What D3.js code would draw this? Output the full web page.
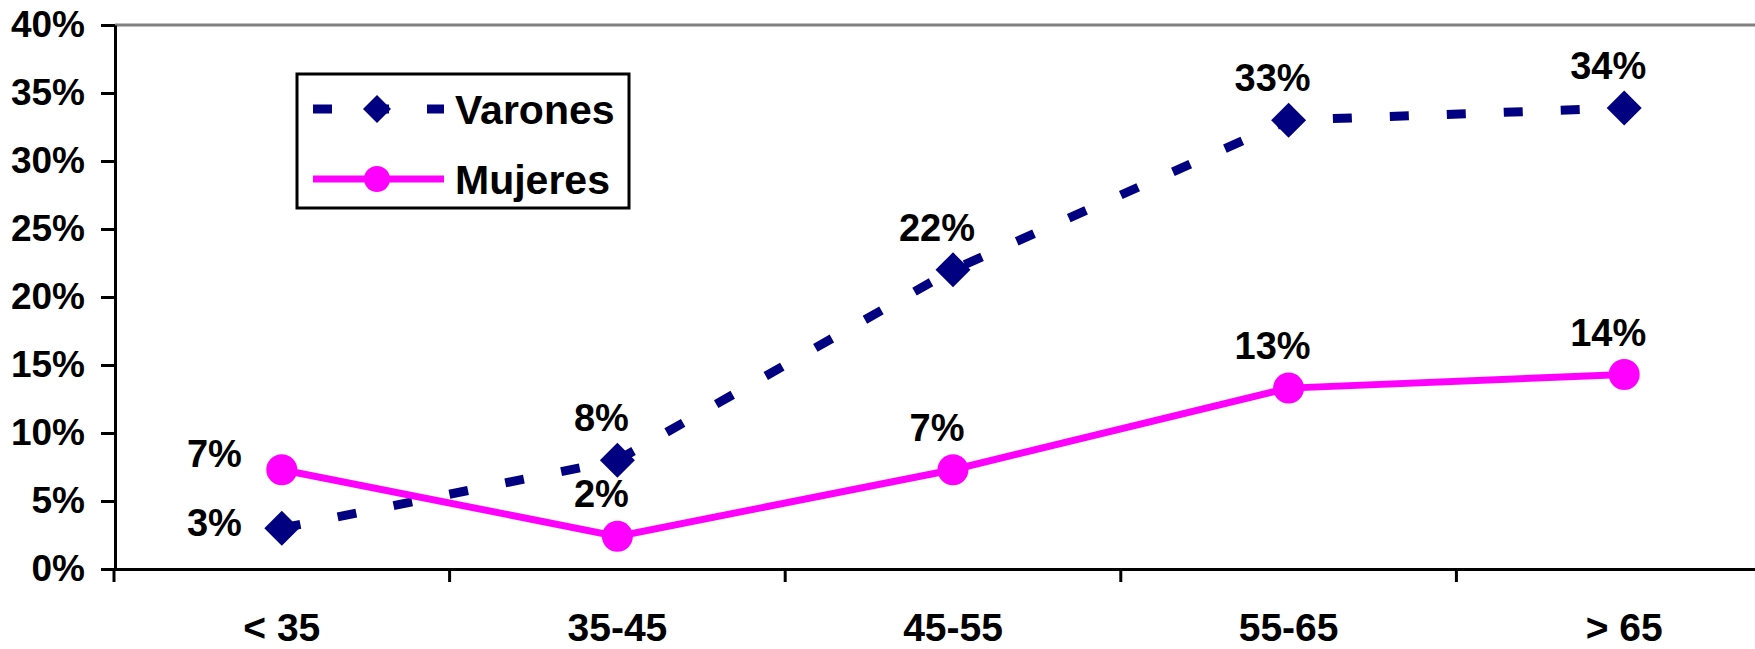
<!DOCTYPE html>
<html lang="es">
<head>
    <meta charset="UTF-8">
    <title>Varones y mujeres por edad</title>
    <script src="https://d3js.org/d3.v7.min.js"></script>
    <style>
        body { margin: 0; background: #fff; }
        text { font-family: "Liberation Sans", Arial, sans-serif; font-weight: bold; }
    </style>
</head>
<body>
    <div id="chart"></div>

    <script>
        // datos
        var categorias = ["< 35", "35-45", "45-55", "55-65", "> 65"];
        var varones = [0.030, 0.080, 0.220, 0.330, 0.339];
        var mujeres = [0.073, 0.024, 0.073, 0.133, 0.143];
        var ticksY = [0, 0.05, 0.10, 0.15, 0.20, 0.25, 0.30, 0.35, 0.40];
        var series = ["Varones", "Mujeres"];

        var width = 1755;
        var height = 649;
        var azul = "#000080";
        var rosa = "#ff00ff";

        var svg = d3.select("#chart")
                    .append("svg")
                    .attr("width", width)
                    .attr("height", height);

        // el eje x sigue mas alla del borde derecho (grafico recortado)
        var x = d3.scaleBand()
                  .domain(categorias)
                  .range([114, 1792])
                  .paddingInner(0)
                  .paddingOuter(0);

        var y = d3.scaleLinear()
                  .domain([0, 0.4])
                  .range([569, 25]);

        var cx = function(i) { return x(categorias[i]) + x.bandwidth() / 2; };
        var pct = d3.format(".0%");

        // borde superior gris del area de trazado
        svg.append("line")
           .attr("x1", 115).attr("x2", width)
           .attr("y1", y(0.4)).attr("y2", y(0.4))
           .attr("stroke", "#808080")
           .attr("stroke-width", 3);

        // eje y
        var ejeY = svg.append("g")
                      .attr("transform", "translate(115,0)")
                      .call(d3.axisLeft(y)
                              .tickValues(ticksY)
                              .tickFormat(pct)
                              .tickSize(14)
                              .tickSizeOuter(0)
                              .tickPadding(16));
        ejeY.select(".domain").attr("stroke-width", 3);
        ejeY.selectAll(".tick line").attr("stroke-width", 3);
        ejeY.selectAll("text").attr("font-size", "37px").attr("fill", "#000");

        // eje x: etiquetas centradas en cada categoria
        var ejeX = svg.append("g")
                      .attr("transform", "translate(0," + y(0) + ")")
                      .call(d3.axisBottom(x)
                              .tickSize(0)
                              .tickSizeOuter(0)
                              .tickPadding(44));
        ejeX.select(".domain").attr("stroke-width", 3);
        ejeX.selectAll("text").attr("font-size", "39px").attr("fill", "#000");

        // marcas del eje x en los limites de cada categoria
        var limites = categorias.map(function(d) { return x(d); }).concat([x.range()[1]]);
        svg.append("g")
           .selectAll("line")
           .data(limites)
           .enter()
           .append("line")
           .attr("x1", function(d) { return d; })
           .attr("x2", function(d) { return d; })
           .attr("y1", y(0))
           .attr("y2", y(0) + 13)
           .attr("stroke", "#000")
           .attr("stroke-width", 3);

        var linea = d3.line()
                      .x(function(d, i) { return cx(i); })
                      .y(function(d) { return y(d); });

        // Varones: linea discontinua con rombos
        svg.append("path")
           .attr("d", linea(varones))
           .attr("fill", "none")
           .attr("stroke", azul)
           .attr("stroke-width", 9)
           .attr("stroke-dasharray", "19,38");

        var rombo = d3.symbol().type(d3.symbolSquare).size(612);
        svg.selectAll(".rombo")
           .data(varones)
           .enter()
           .append("path")
           .attr("class", "rombo")
           .attr("d", rombo)
           .attr("transform", function(d, i) { return "translate(" + cx(i) + "," + y(d) + ") rotate(45)"; })
           .attr("fill", azul);

        // Mujeres: linea continua con circulos
        svg.append("path")
           .attr("d", linea(mujeres))
           .attr("fill", "none")
           .attr("stroke", rosa)
           .attr("stroke-width", 7);

        svg.selectAll(".punto")
           .data(mujeres)
           .enter()
           .append("circle")
           .attr("class", "punto")
           .attr("cx", function(d, i) { return cx(i); })
           .attr("cy", function(d) { return y(d); })
           .attr("r", 15.5)
           .attr("fill", rosa);

        // etiquetas de datos: la primera a la izquierda, el resto encima
        function etiquetas(valores, dyIzq) {
            svg.append("g")
               .selectAll("text")
               .data(valores)
               .enter()
               .append("text")
               .text(function(d) { return pct(d); })
               .attr("x", function(d, i) { return i === 0 ? cx(i) - 40 : cx(i) - 16; })
               .attr("y", function(d, i) { return i === 0 ? y(d) + dyIzq : y(d) - 29; })
               .attr("text-anchor", function(d, i) { return i === 0 ? "end" : "middle"; })
               .attr("font-size", "38px")
               .attr("fill", "#000");
        }
        etiquetas(varones, 8);
        etiquetas(mujeres, -3);

        // leyenda
        var ley = svg.append("g");
        ley.append("rect")
           .attr("x", 297).attr("y", 74)
           .attr("width", 332).attr("height", 134)
           .attr("fill", "#fff")
           .attr("stroke", "#000")
           .attr("stroke-width", 3);

        var filas = ley.selectAll(".fila")
                       .data(series)
                       .enter()
                       .append("g")
                       .attr("class", "fila")
                       .attr("transform", function(d, i) { return "translate(0," + (109 + i * 70) + ")"; });

        filas.append("line")
             .attr("x1", 313).attr("x2", 444)
             .attr("y1", 0).attr("y2", 0)
             .attr("stroke", function(d, i) { return i === 0 ? azul : rosa; })
             .attr("stroke-width", function(d, i) { return i === 0 ? 9 : 7; })
             .attr("stroke-dasharray", function(d, i) { return i === 0 ? "19,38" : null; });

        filas.filter(function(d, i) { return i === 0; })
             .append("path")
             .attr("d", d3.symbol().type(d3.symbolSquare).size(392))
             .attr("transform", "translate(377,0) rotate(45)")
             .attr("fill", azul);

        filas.filter(function(d, i) { return i === 1; })
             .append("circle")
             .attr("cx", 377).attr("cy", 0)
             .attr("r", 13)
             .attr("fill", rosa);

        filas.append("text")
             .attr("x", 455)
             .attr("y", 15)
             .attr("font-size", "41px")
             .attr("fill", "#000")
             .text(function(d) { return d; });
    </script>
</body>
</html>
